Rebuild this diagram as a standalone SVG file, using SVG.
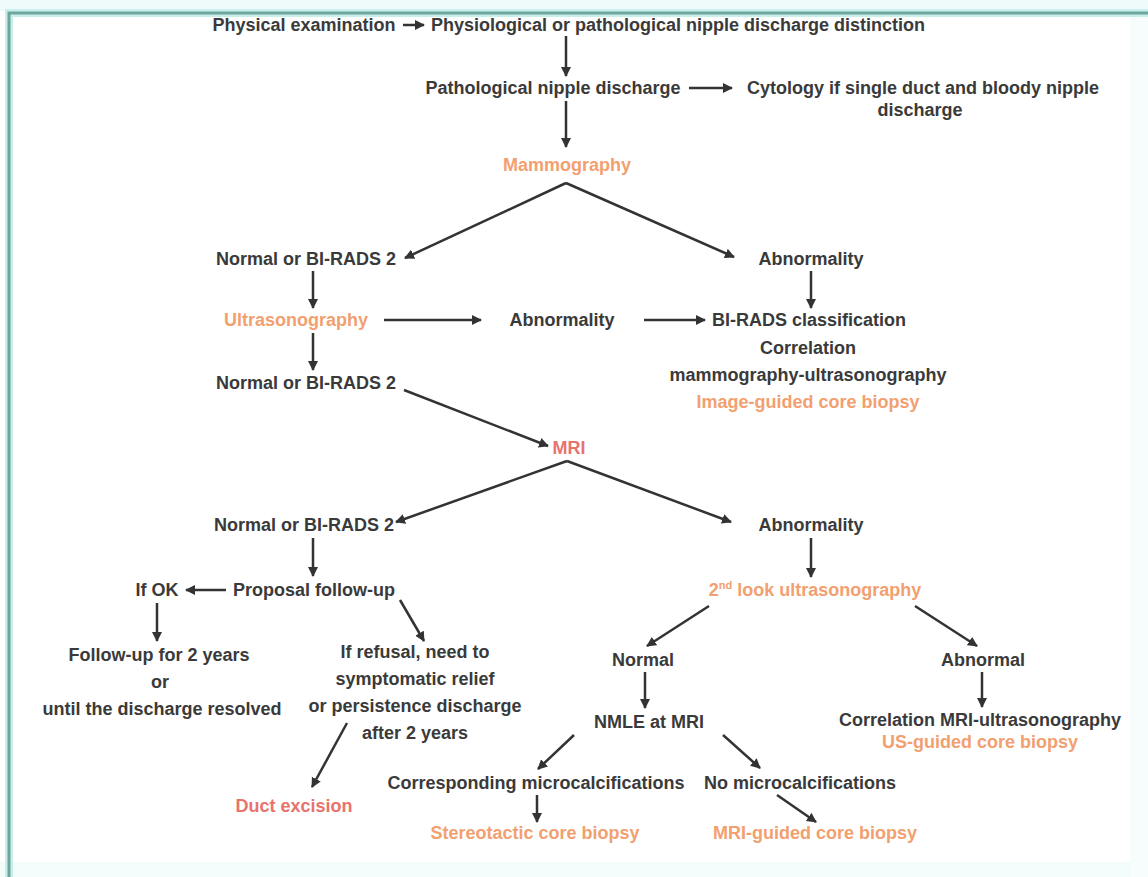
<svg xmlns="http://www.w3.org/2000/svg" width="1148" height="877" viewBox="0 0 1148 877">
<defs>
<marker id="ah" viewBox="0 0 10 10" refX="9" refY="5" markerWidth="10" markerHeight="10" markerUnits="userSpaceOnUse" orient="auto">
<path d="M0,0 L10,5 L0,10 z" fill="#333"/>
</marker>
<style>
.t{font-family:"Liberation Sans",Arial,sans-serif;font-size:18px;font-weight:bold;fill:#3a3a3a;text-anchor:middle}
.o{fill:#f2a070}
.r{fill:#e8736c}
.c{fill:none;stroke:#333;stroke-width:2.5;marker-end:url(#ah)}
</style>
</defs>
<rect width="1148" height="877" fill="#ffffff"/>
<rect x="0" y="0" width="1148" height="11" fill="#effbfa"/>
<rect x="0" y="862" width="1148" height="15" fill="#f2fcfb"/>
<rect x="1130" y="14" width="18" height="863" fill="#f6fdfc"/>
<g id="frame" fill="none">
<path d="M9,877 V13 H1148" stroke="#c9efeb" stroke-width="8"/>
<path d="M9,877 V13 H1148" stroke="#6fa59d" stroke-width="3"/>
</g>

<g id="connectors">
<line class="c" x1="403" y1="25" x2="424" y2="25"/>
<line class="c" x1="566" y1="36" x2="566" y2="76"/>
<line class="c" x1="689" y1="88" x2="732" y2="88"/>
<line class="c" x1="566" y1="101" x2="566" y2="147"/>
<line class="c" x1="566" y1="183" x2="405" y2="258"/>
<line class="c" x1="566" y1="183" x2="734" y2="257"/>
<line class="c" x1="313" y1="271" x2="313" y2="308"/>
<line class="c" x1="811" y1="271" x2="811" y2="308"/>
<line class="c" x1="384" y1="320" x2="481" y2="320"/>
<line class="c" x1="644" y1="320" x2="705" y2="320"/>
<line class="c" x1="313" y1="333" x2="313" y2="370"/>
<line class="c" x1="404" y1="390" x2="548" y2="446"/>
<line class="c" x1="567" y1="461" x2="396" y2="522"/>
<line class="c" x1="567" y1="461" x2="731" y2="522"/>
<line class="c" x1="313" y1="538" x2="313" y2="576"/>
<line class="c" x1="811" y1="538" x2="811" y2="577"/>
<line class="c" x1="226" y1="590" x2="186" y2="590"/>
<line class="c" x1="400" y1="600" x2="424" y2="641"/>
<line class="c" x1="157" y1="603" x2="157" y2="641"/>
<line class="c" x1="709" y1="606" x2="647" y2="646"/>
<line class="c" x1="915" y1="606" x2="977" y2="646"/>
<line class="c" x1="645" y1="672" x2="645" y2="708"/>
<line class="c" x1="982" y1="672" x2="982" y2="707"/>
<line class="c" x1="347" y1="723" x2="312" y2="787"/>
<line class="c" x1="574" y1="735" x2="538" y2="769"/>
<line class="c" x1="723" y1="735" x2="760" y2="768"/>
<line class="c" x1="537" y1="795" x2="537" y2="822"/>
<line class="c" x1="777" y1="795" x2="816" y2="822"/>
</g>

<g id="n-physical"><text class="t" x="304" y="31">Physical examination</text></g>
<g id="n-distinction"><text class="t" x="678" y="31">Physiological or pathological nipple discharge distinction</text></g>
<g id="n-pathological"><text class="t" x="553" y="94">Pathological nipple discharge</text></g>
<g id="n-cytology"><text class="t" x="923" y="94">Cytology if single duct and bloody nipple</text><text class="t" x="920" y="116">discharge</text></g>
<g id="n-mammography"><text class="t o" x="567" y="171">Mammography</text></g>
<g id="n-normal1"><text class="t" x="306" y="265">Normal or BI-RADS 2</text></g>
<g id="n-abn1"><text class="t" x="811" y="265">Abnormality</text></g>
<g id="n-us"><text class="t o" x="296" y="326">Ultrasonography</text></g>
<g id="n-abn2"><text class="t" x="562" y="326">Abnormality</text></g>
<g id="n-birads"><text class="t" x="809" y="326">BI-RADS classification</text><text class="t" x="808" y="354">Correlation</text><text class="t" x="808" y="381">mammography-ultrasonography</text><text class="t o" x="808" y="408">Image-guided core biopsy</text></g>
<g id="n-normal2"><text class="t" x="306" y="389">Normal or BI-RADS 2</text></g>
<g id="n-mri"><text class="t r" x="569" y="454">MRI</text></g>
<g id="n-normal3"><text class="t" x="304" y="531">Normal or BI-RADS 2</text></g>
<g id="n-abn3"><text class="t" x="811" y="531">Abnormality</text></g>
<g id="n-ifok"><text class="t" x="157" y="596">If OK</text></g>
<g id="n-proposal"><text class="t" x="314" y="596">Proposal follow-up</text></g>
<g id="n-2ndlook"><text class="t o" x="815" y="596">2<tspan font-size="11" dy="-7">nd</tspan><tspan dy="7"> look ultrasonography</tspan></text></g>
<g id="n-followup"><text class="t" x="159" y="661">Follow-up for 2 years</text><text class="t" x="160" y="688">or</text><text class="t" x="162" y="715">until the discharge resolved</text></g>
<g id="n-refusal"><text class="t" x="415" y="658">If refusal, need to</text><text class="t" x="415" y="685">symptomatic relief</text><text class="t" x="415" y="712">or persistence discharge</text><text class="t" x="415" y="739">after 2 years</text></g>
<g id="n-normal4"><text class="t" x="643" y="666">Normal</text></g>
<g id="n-abnormal"><text class="t" x="983" y="666">Abnormal</text></g>
<g id="n-nmle"><text class="t" x="649" y="728">NMLE at MRI</text></g>
<g id="n-corrmri"><text class="t" x="980" y="726">Correlation MRI-ultrasonography</text><text class="t o" x="980" y="748">US-guided core biopsy</text></g>
<g id="n-duct"><text class="t r" x="294" y="812">Duct excision</text></g>
<g id="n-corresp"><text class="t" x="536" y="789">Corresponding microcalcifications</text></g>
<g id="n-nomicro"><text class="t" x="800" y="789">No microcalcifications</text></g>
<g id="n-stereo"><text class="t o" x="535" y="839">Stereotactic core biopsy</text></g>
<g id="n-mriguided"><text class="t o" x="815" y="839">MRI-guided core biopsy</text></g>
</svg>
